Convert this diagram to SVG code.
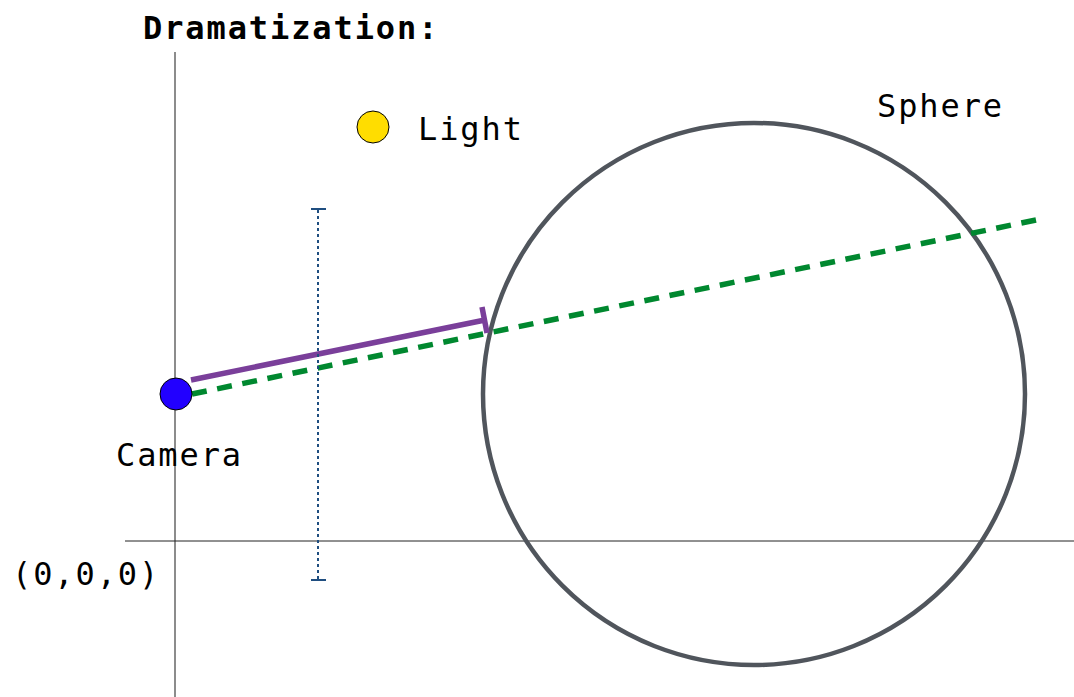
<svg xmlns="http://www.w3.org/2000/svg" width="1074" height="697" viewBox="0 0 1074 697">
<style>
text{font-family:"DejaVu Sans Mono","Liberation Mono",monospace;font-size:32px;fill:#000;letter-spacing:1.9px}
.title{font-weight:bold}
</style>
<rect width="1074" height="697" fill="#fff"/>
<g id="axes">
<line x1="175" y1="52" x2="175" y2="697" stroke="#666" stroke-width="1.5"/>
<line x1="125" y1="541" x2="1074" y2="541" stroke="#222" stroke-width="1"/>
</g>
<g id="sphere">
<circle cx="754" cy="394" r="271" fill="none" stroke="#50555c" stroke-width="4.5"/>
<text x="877" y="117">Sphere</text>
</g>
<g id="connectors">
<line x1="192" y1="394" x2="1036" y2="220" stroke="#00882f" stroke-width="5.5" stroke-dasharray="15 10.66"/>
<path d="M191 380 L485 320 M482 307 L487 333" fill="none" stroke="#7a3f9a" stroke-width="5.5"/>
<g stroke="#1f4e80" stroke-width="2">
<line x1="318" y1="210" x2="318" y2="580" stroke-dasharray="3 3"/>
<line x1="311" y1="209" x2="326" y2="209"/>
<line x1="311" y1="580" x2="326" y2="580"/>
</g>
</g>
<g id="camera">
<circle cx="176" cy="394" r="16" fill="#2200ff" stroke="#000" stroke-width="1"/>
<text x="116" y="466">Camera</text>
</g>
<g id="light">
<circle cx="373" cy="127" r="16" fill="#ffdd00" stroke="#000" stroke-width="1"/>
<text x="418" y="140">Light</text>
</g>
<g id="origin">
<text x="12" y="585">(0,0,0)</text>
</g>
<g id="title">
<text class="title" x="143" y="39">Dramatization:</text>
</g>
</svg>
